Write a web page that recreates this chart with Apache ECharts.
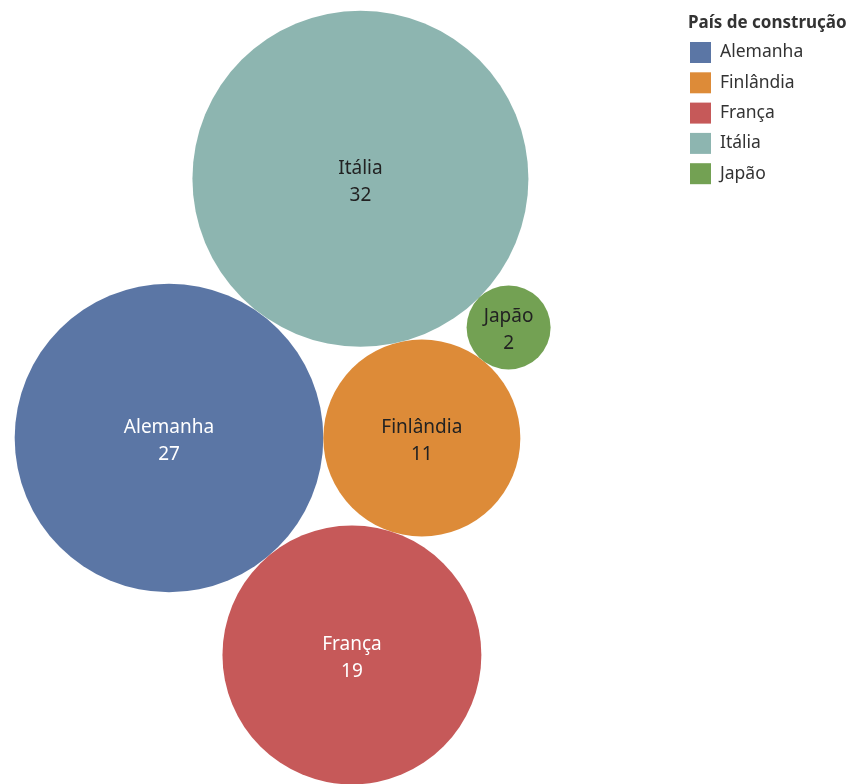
<!DOCTYPE html>
<html>
<head>
<meta charset="utf-8">
<script src="https://cdn.jsdelivr.net/npm/echarts@6/dist/echarts.min.js"></script>
<style>
  html, body { margin: 0; padding: 0; background: #fff; }
  #chart { width: 850px; height: 784px; }
</style>
</head>
<body>
<div id="chart"></div>
<script>
// Navios por país de construção
const countries = ['Alemanha', 'Finlândia', 'França', 'Itália', 'Japão'];
const counts = [27, 11, 19, 32, 2];
const colors = ['#5b76a5', '#dd8b38', '#c65959', '#8db5b0', '#73a153'];
const labelColors = ['#ffffff', '#222222', '#ffffff', '#222222', '#222222'];

// Bubble radius (px) grows with the square root of the count
const RADIUS_SCALE = 29.7;
const radius = v => RADIUS_SCALE * Math.sqrt(v);

// Packed layout: each bubble sits tangent to two bubbles already placed.
// [index, neighbourA, neighbourB, side]  side: +1 / -1 picks which of the two tangent spots
const packing = [
  [2, 0, 1, +1],   // França: below Alemanha & Finlândia
  [3, 0, 1, -1],   // Itália: above Alemanha & Finlândia
  [4, 3, 1, -1]    // Japão: between Itália & Finlândia, outer side
];

function tangentPoint(p1, r1, p2, r2, r, side) {
  const d1 = r1 + r, d2 = r2 + r;
  const dx = p2[0] - p1[0], dy = p2[1] - p1[1];
  const D = Math.hypot(dx, dy);
  const a = (d1 * d1 - d2 * d2 + D * D) / (2 * D);
  const h = Math.sqrt(Math.max(0, d1 * d1 - a * a));
  const ux = dx / D, uy = dy / D;
  return [p1[0] + a * ux - side * h * uy, p1[1] + a * uy + side * h * ux];
}

const radii = counts.map(radius);
const centers = new Array(countries.length);
centers[0] = [0, 0];
centers[1] = [radii[0] + radii[1], 0];
packing.forEach(([i, a, b, side]) => {
  centers[i] = tangentPoint(centers[a], radii[a], centers[b], radii[b], radii[i], side);
});

const chart = echarts.init(document.getElementById('chart'));
const FONT = 'Noto Sans';

chart.setOption({
  backgroundColor: '#ffffff',
  animation: false,
  title: {
    text: 'País de construção',
    left: 688,
    top: 15,
    padding: 0,
    textStyle: { fontFamily: FONT, fontSize: 17, fontWeight: 'bold', color: '#333333' }
  },
  legend: {
    orient: 'vertical',
    left: 690,
    top: 42,
    padding: 0,
    icon: 'rect',
    itemWidth: 21,
    itemHeight: 21,
    itemGap: 9.3,
    data: countries,
    textStyle: { fontFamily: FONT, fontSize: 17.5, color: '#333333', padding: [0, 0, 0, 4] }
  },
  // 1 axis unit = 1 pixel so the layout and symbol sizes share the same scale
  grid: { left: 0, top: 0, width: 850, height: 784 },
  xAxis: { type: 'value', min: -169, max: 681, show: false },
  yAxis: { type: 'value', min: -438, max: 346, inverse: true, show: false },
  series: countries.map((name, i) => ({
    name: name,
    type: 'scatter',
    color: colors[i],
    symbol: 'circle',
    symbolSize: radii[i] * 2,
    itemStyle: { color: colors[i], opacity: 1 },
    emphasis: { disabled: true },
    label: {
      show: true,
      position: 'inside',
      offset: [0, 3],
      formatter: p => name + '\n' + p.value[2],
      fontFamily: FONT,
      fontSize: 19,
      lineHeight: 27,
      color: labelColors[i]
    },
    data: [[centers[i][0], centers[i][1], counts[i]]]
  }))
});
</script>
</body>
</html>
